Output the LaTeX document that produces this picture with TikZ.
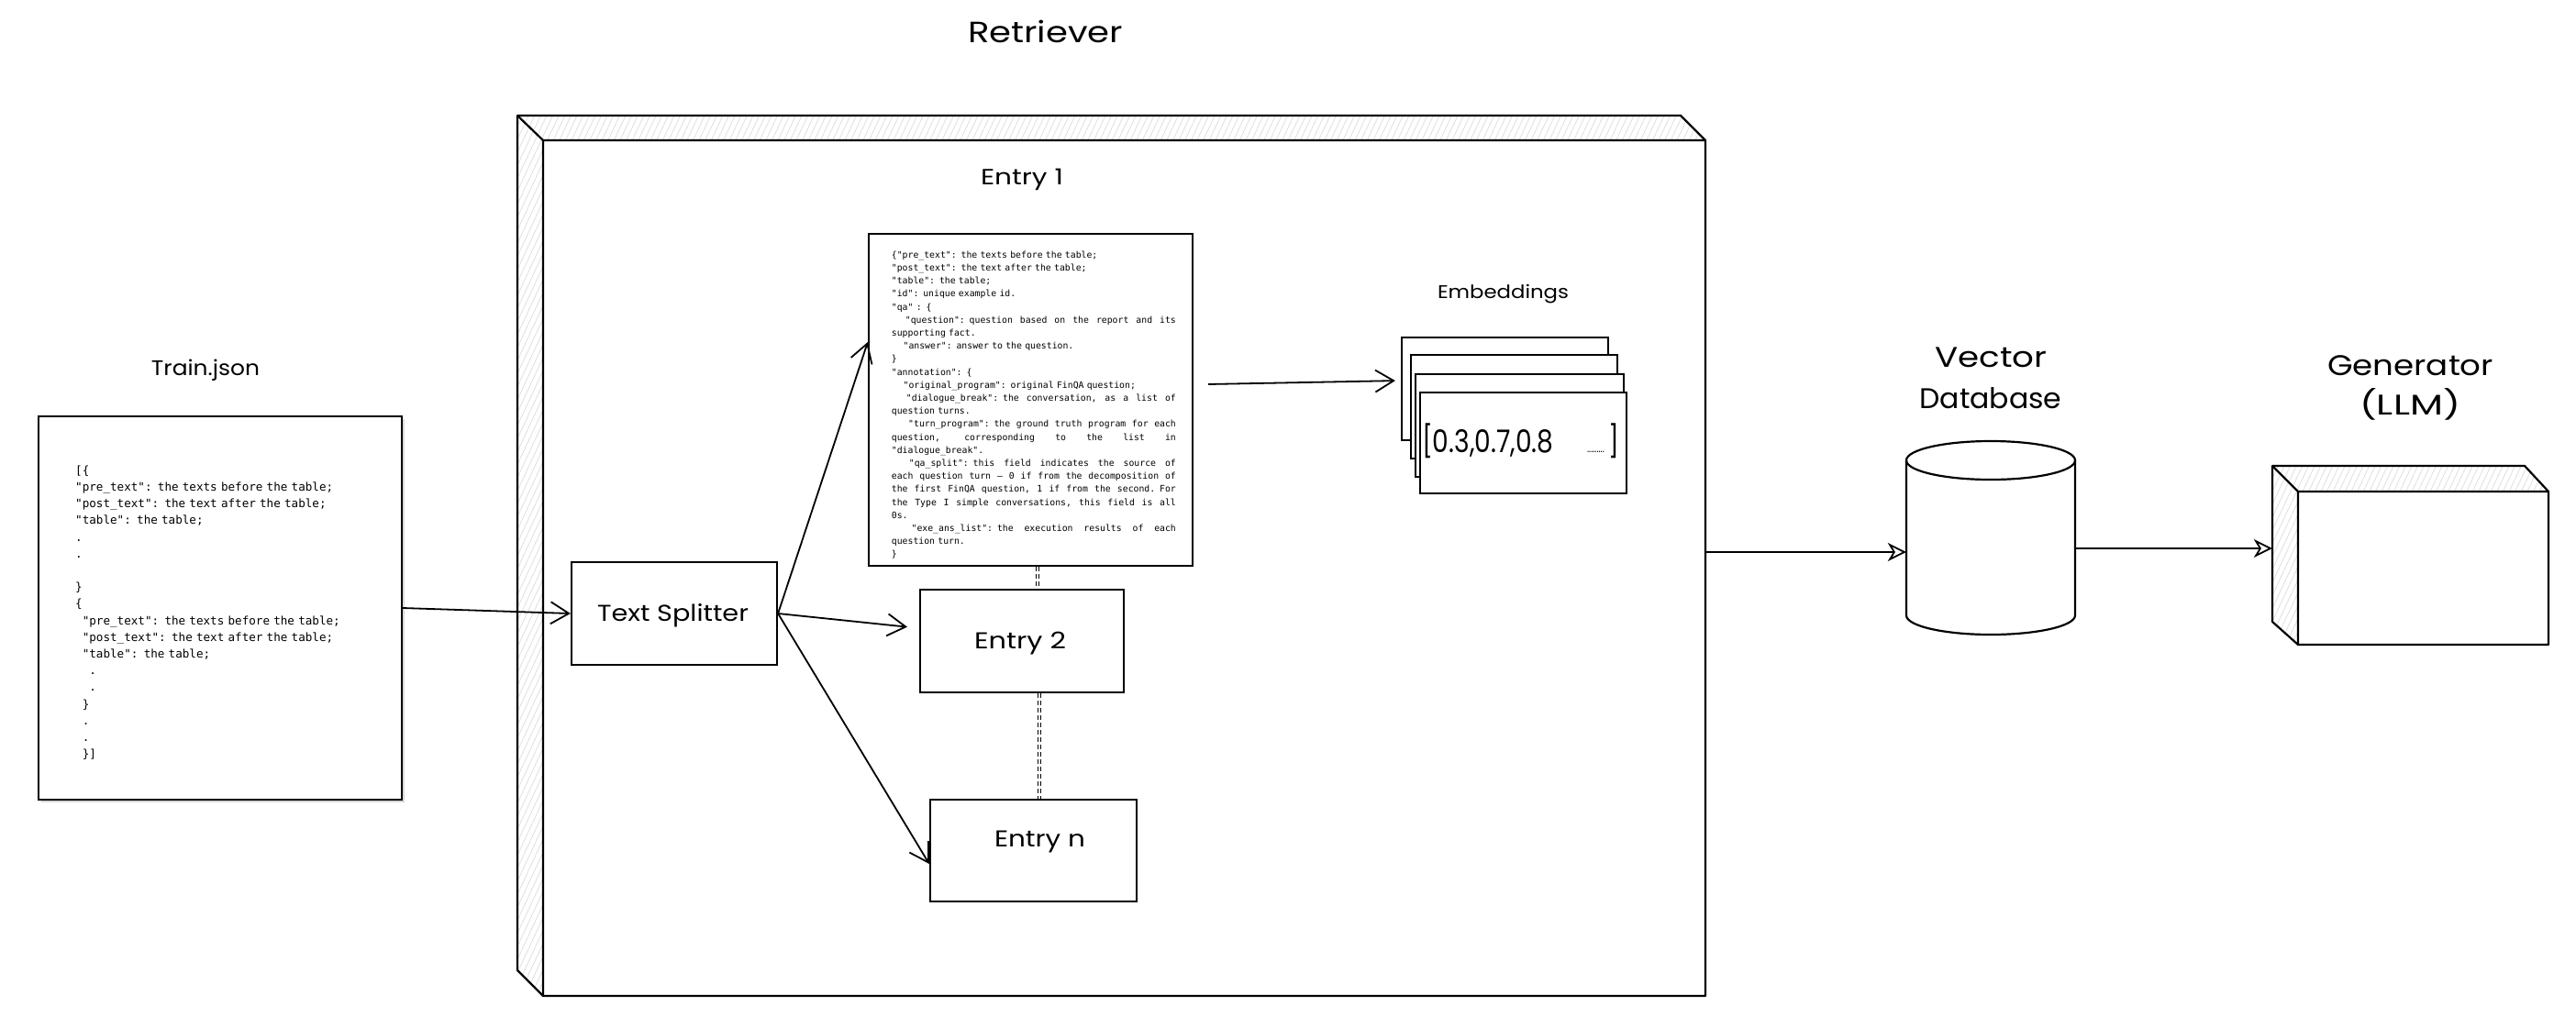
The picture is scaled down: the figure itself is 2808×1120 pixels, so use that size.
\documentclass[tikz,border=0pt]{standalone}
\usepackage{fontspec}
\usepackage{graphicx}
\usetikzlibrary{arrows.meta,shadows,patterns.meta}
\newfontfamily\hand{Poppins}
\newfontfamily\mono{DejaVu Sans Mono}
% #1 target width, #2 font size, #3 text: width fitted, height kept
\newcommand\lab[3]{\resizebox{#1}{\height}{\hand\fontsize{#2}{#2}\selectfont #3}}
\newcommand\jline[1]{\makebox[310pt][s]{\spaceskip=0.602em plus 1fil\relax #1}}
\begin{document}
\begin{tikzpicture}[x=1pt,y=-1pt,
  lw/.style={line width=2.2pt, line join=round},
  box/.style={draw, line width=2.2pt, fill=white, inner sep=0pt},
  hatch/.style={pattern={Lines[angle=65,distance=6pt,line width=0.7pt]}, pattern color=black!14},
  lbl/.style={inner sep=0pt, anchor=base},
  barb/.style={line width=1.8pt, -{Straight Barb[length=20pt,width=24pt]}},
  hollow/.style={line width=1.8pt, -{Stealth[open,length=20pt,width=20pt,inset=6pt]}},
  dashlink/.style={double, double distance=2.5pt, line width=1pt, dash pattern=on 5pt off 3pt},
  monotext/.style={inner sep=0pt, anchor=north west, align=left}]
\fill[white] (0,0) rectangle (2808,1120);
\useasboundingbox (0,0) rectangle (2808,1120);

% Retriever cube
\path[fill=white] (564,126) -- (1832,126) -- (1859,153) -- (1859,1086) -- (592,1086) -- (564,1058) -- cycle;
\path[hatch] (564,126) -- (1832,126) -- (1859,153) -- (592,153) -- cycle;
\path[hatch] (564,126) -- (592,153) -- (592,1086) -- (564,1058) -- cycle;
\draw[lw] (564,126) -- (1832,126) -- (1859,153) -- (1859,1086) -- (592,1086) -- (564,1058) -- cycle;
\draw[lw] (564,126) -- (592,153) -- (1859,153) (592,153) -- (592,1086);
\node[inner sep=0pt, minimum width=1295pt, minimum height=960pt] (retr) at (1211.5,606) {};

% Generator cube
\path[fill=white] (2477,508) -- (2752,508) -- (2778,536) -- (2778,703) -- (2505,703) -- (2477,678) -- cycle;
\path[hatch] (2477,508) -- (2752,508) -- (2778,536) -- (2505,536) -- cycle;
\path[hatch] (2477,508) -- (2505,536) -- (2505,703) -- (2477,678) -- cycle;
\draw[lw] (2477,508) -- (2752,508) -- (2778,536) -- (2778,703) -- (2505,703) -- (2477,678) -- cycle;
\draw[lw] (2477,508) -- (2505,536) -- (2778,536) (2505,536) -- (2505,703);
\node[inner sep=0pt, minimum width=301pt, minimum height=195pt] (gen) at (2627.5,605.5) {};

% Vector database cylinder
\path[fill=white] (2078,502) -- (2078,671) arc[start angle=180,end angle=0,x radius=92,y radius=21] -- (2262,502) arc[start angle=0,end angle=-180,x radius=92,y radius=21] -- cycle;
\draw[lw] (2078,502) -- (2078,671) arc[start angle=180,end angle=0,x radius=92,y radius=21] -- (2262,502);
\draw[lw] (2170,502) ellipse [x radius=92, y radius=21];
\node[inner sep=0pt, minimum width=184pt, minimum height=212pt] (db) at (2170,586) {};

% Train.json
\node[box, minimum width=396pt, minimum height=418pt, drop shadow={shadow xshift=3pt,shadow yshift=-3pt,opacity=0.3}] (train) at (240,663) {};
\node[monotext, text width=360pt, font=\mono\fontsize{12.6}{18.2}\selectfont] (traintxt) at (82,504.3) {\strut[\{\\
"pre\_text": the texts before the table;\\
"post\_text": the text after the table;\\
"table": the table;\\
.\\
.\\
\mbox{}\\
\}\\
\{\\
\hspace*{7.6pt}"pre\_text": the texts before the table;\\
\hspace*{7.6pt}"post\_text": the text after the table;\\
\hspace*{7.6pt}"table": the table;\\
\hspace*{15.2pt}.\\
\hspace*{15.2pt}.\\
\hspace*{7.6pt}\}\\
\hspace*{7.6pt}.\\
\hspace*{7.6pt}.\\
\hspace*{7.6pt}\}]};

% Inner boxes
\node[box, minimum width=224pt, minimum height=112pt] (split) at (735,669) {};
\node[box, minimum width=353pt, minimum height=362pt] (e1) at (1123.5,436) {};
\node[monotext, text width=312pt, font=\mono\fontsize{9.8}{14.2}\selectfont] (e1txt) at (971.7,271.1) {\strut\{"pre\_text": the texts before the table;\\
"post\_text": the text after the table;\\
"table": the table;\\
"id": unique example id.\\
"qa" : \{\\
\jline{\hspace*{15pt}"question": question based on the report and its}\\
supporting fact.\\
\hspace*{12.7pt}"answer": answer to the question.\\
\}\\
"annotation": \{\\
\hspace*{12.7pt}"original\_program": original FinQA question;\\
\jline{\hspace*{16pt}"dialogue\_break": the conversation, as a list of}\\
question turns.\\
\jline{\hspace*{18.3pt}"turn\_program": the ground truth program for each}\\
\jline{question, corresponding to the list in}\\
"dialogue\_break".\\
\jline{\hspace*{19pt}"qa\_split": this field indicates the source of}\\
\jline{each question turn – 0 if from the decomposition of}\\
\jline{the first FinQA question, 1 if from the second. For}\\
\jline{the Type I simple conversations, this field is all}\\
0s.\\
\jline{\hspace*{21.7pt}"exe\_ans\_list": the execution results of each}\\
question turn.\\
\}};
\node[box, minimum width=222pt, minimum height=112pt] (e2) at (1114,699) {};
\node[box, minimum width=225pt, minimum height=111pt] (en) at (1126.5,927.5) {};

% Embeddings stack
\node[box, minimum width=225pt, minimum height=112pt] (emb1) at (1640.5,424) {};
\node[box, minimum width=225pt, minimum height=113pt] (emb2) at (1650.5,443.5) {};
\node[box, minimum width=227pt, minimum height=112pt] (emb3) at (1656.5,464) {};
\node[box, minimum width=225pt, minimum height=110pt] (emb4) at (1660.5,483) {};

% Labels
\node[lbl] (tRetr) at (1139.5,46) {\lab{169pt}{32}{Retriever}};
\node[lbl] (tE1) at (1114,201) {\lab{90pt}{24}{Entry 1}};
\node[lbl] (tTrain) at (224,409) {\lab{118pt}{23}{Train.json}};
\node[lbl] (tEmb) at (1638.5,325) {\lab{143pt}{20}{Embeddings}};
\node[lbl] (tVec) at (2170.5,400) {\lab{122pt}{31}{Vector}};
\node[lbl] (tDb) at (2170,445) {\lab{155pt}{31}{Database}};
\node[lbl] (tGen) at (2627.5,409) {\lab{181pt}{31}{Generator}};
\node[lbl] (tLlm) at (2627,452) {\lab{110pt}{31}{(LLM)}};
\node[lbl] (tSplit) at (733.5,677) {\lab{165pt}{25}{Text Splitter}};
\node[lbl] (tE2) at (1112,707) {\lab{100pt}{25}{Entry 2}};
\node[lbl] (tEn) at (1133.5,923) {\lab{99pt}{25}{Entry n}};
\node[lbl] (vec) at (1657.5,493) {\lab{215pt}{34}{[0.3,0.7,0.8\hspace{1.3em}{\fontsize{12}{12}\selectfont .........}\hspace{0.15em}]}};

% Connectors
\draw[barb] (train.east) -- (split.west);
\draw[barb] (split.east) -- ([yshift=63pt]e1.west);
\draw[barb, shorten >=13pt] (split.east) -- ([yshift=14pt]e2.west);
\draw[barb] (split.east) -- ([yshift=-14.5pt]en.west);
\draw[barb, shorten >=6pt] ([xshift=16pt,yshift=17pt]e1.east) -- ([yshift=9pt]emb1.west);
\draw[dashlink] ([xshift=7.5pt]e1.south) -- ([xshift=17pt]e2.north);
\draw[dashlink] ([xshift=19pt]e2.south) -- ([xshift=6.5pt]en.north);
\draw[hollow] ([yshift=4pt]retr.east) -- ([yshift=-16pt]db.west);
\draw[hollow] ([yshift=-12pt]db.east) -- ([yshift=7.5pt]gen.west);
\end{tikzpicture}
\end{document}
